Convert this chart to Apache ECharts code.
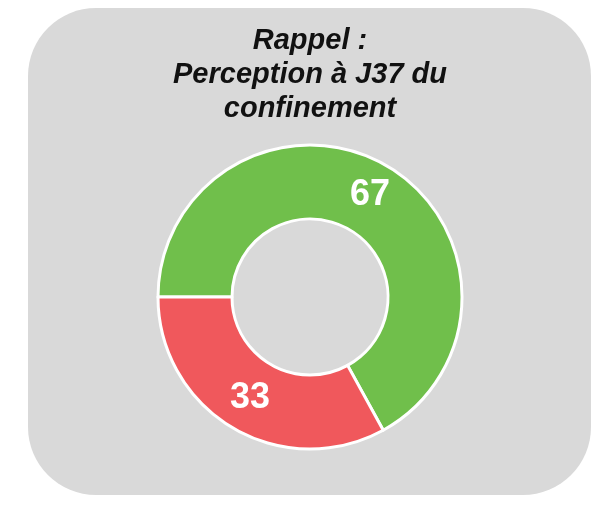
<!DOCTYPE html>
<html>
<head>
<meta charset="utf-8">
<script src="https://cdn.jsdelivr.net/npm/echarts@6/dist/echarts.min.js"></script>
<style>
  html, body { margin: 0; padding: 0; background: #ffffff; }
  #pieChart { width: 606px; height: 506px; }
</style>
</head>
<body>
<div id="pieChart"></div>
<script>
// données
var categories = ["Positif", "Négatif"];
var values = [67, 33];
var colors = ["#70BF4B", "#F0585C"];

var chart = echarts.init(document.getElementById("pieChart"));

var option = {
  animation: false,
  backgroundColor: "#ffffff",
  graphic: [
    {
      // cadre gris arrondi
      type: "rect",
      z: -10,
      silent: true,
      shape: { x: 28, y: 8, width: 563, height: 487, r: 68 },
      style: { fill: "#D9D9D9" }
    }
  ],
  title: {
    text: "Rappel :\nPerception à J37 du\nconfinement",
    left: 310,
    top: 24,
    textAlign: "center",
    padding: 0,
    textStyle: {
      fontFamily: "Arial",
      fontSize: 29,
      fontWeight: "bold",
      fontStyle: "italic",
      color: "#111111",
      lineHeight: 34
    }
  },
  series: [
    {
      type: "pie",
      center: [310, 297],
      radius: [78, 152],
      startAngle: 180,
      clockwise: true,
      silent: true,
      itemStyle: {
        borderColor: "#ffffff",
        borderWidth: 3
      },
      label: {
        show: true,
        position: "inside",
        formatter: "{c}",
        color: "#ffffff",
        fontFamily: "Arial",
        fontSize: 36,
        fontWeight: "bold"
      },
      labelLine: { show: false },
      data: categories.map(function (c, i) {
        return { name: c, value: values[i], itemStyle: { color: colors[i] } };
      })
    }
  ]
};

chart.setOption(option);
</script>
</body>
</html>
